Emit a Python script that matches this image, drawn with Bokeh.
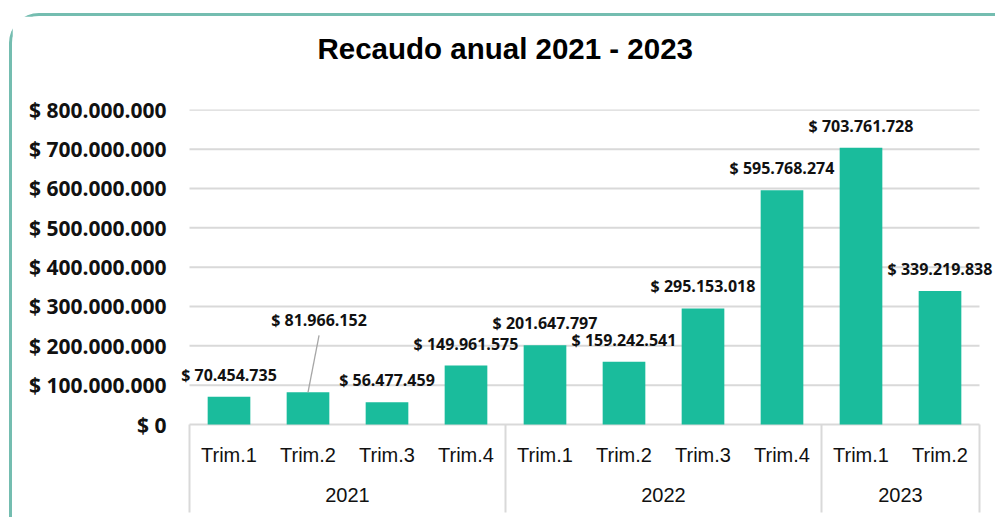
from bokeh.plotting import figure
from bokeh.models import (FactorRange, Range1d, FixedTicker, ColumnDataSource,
                          Title, LabelSet)
from bokeh.embed import file_html
from bokeh.resources import INLINE
from bokeh.core.properties import value

# ---------------- data ----------------
years = ["2021", "2021", "2021", "2021", "2022", "2022", "2022", "2022", "2023", "2023"]
quarters = ["Trim.1", "Trim.2", "Trim.3", "Trim.4", "Trim.1", "Trim.2", "Trim.3", "Trim.4", "Trim.1", "Trim.2"]
recaudo = [70454735, 81966152, 56477459, 149961575, 201647797,
           159242541, 295153018, 595768274, 703761728, 339219838]
y_ticks = [0, 100000000, 200000000, 300000000, 400000000,
           500000000, 600000000, 700000000, 800000000]
title_text = "Recaudo anual 2021 - 2023"


def fmt(v):
    return "$ " + f"{v:,}".replace(",", ".")


factors = list(zip(years, quarters))
labels = [fmt(v) for v in recaudo]

BAR = "#1ABC9C"
GRID = "#d9d9d9"
AXFONT = "Liberation Sans"

# label placement (styles): the 2nd label is lifted and linked with a leader line
moved_idx = 1
label_dx = [11 if i == moved_idx else 0 for i in range(len(recaudo))]
label_dy = [72 if i == moved_idx else 22 for i in range(len(recaudo))]

# frame is a bit wider than the category band so that outer labels are not clipped
x_range = FactorRange(*factors, factor_padding=0, group_padding=0,
                      range_padding=0.2405, range_padding_units="absolute")
px_per_unit = 314.7 / 800e6
y_range = Range1d(-96 / px_per_unit, 315 / px_per_unit)

p = figure(x_range=x_range, y_range=y_range, width=986, height=504,
           output_backend="svg", toolbar_location=None,
           min_border_left=158, min_border_right=0, min_border_top=93,
           min_border_bottom=0, outline_line_color=None,
           background_fill_color="white", border_fill_color="white")
p.styles = {"margin-left": "9px", "margin-top": "13px",
            "border-left": "3px solid #74bdb0", "border-top": "3px solid #74bdb0",
            "border-top-left-radius": "30px"}

# spacer (closest to the frame) and title above it
p.add_layout(Title(text=" ", text_font="Liberation Sans", text_font_size="10px",
                   standoff=27), "above")
p.add_layout(Title(text=title_text, align="left", offset=147, vertical_align="bottom",
                   text_font="Liberation Sans", text_font_size="29.5px",
                   text_font_style="bold", text_color="black", standoff=10), "above")

first_f = factors[0]
last_f = factors[-1]
band_left = [first_f[0], first_f[1], -0.5]
band_right = [last_f[0], last_f[1], 0.5]

# horizontal gridlines across the category band
p.segment(x0=[band_left] * len(y_ticks), x1=[band_right] * len(y_ticks),
          y0=y_ticks, y1=y_ticks, line_color=GRID, line_width=2)

src = ColumnDataSource(dict(x=factors, top=recaudo, label=labels,
                            dx=label_dx, dy=label_dy))
p.vbar(x="x", top="top", width=0.54, source=src, fill_color=BAR, line_color=None)

# group separators below the baseline
group_names = []
for y in years:
    if y not in group_names:
        group_names.append(y)
sep_x = []
for g in group_names:
    first = [f for f in factors if f[0] == g][0]
    sep_x.append([first[0], first[1], -0.5])
sep_x.append(band_right)
p.segment(x0=sep_x, x1=sep_x, y0=[0] * len(sep_x), y1=[-88 / px_per_unit] * len(sep_x),
          line_color=GRID, line_width=2)

# leader line for the moved label
p.segment(x0=[factors[moved_idx]], y0=[recaudo[moved_idx]],
          x1=[[factors[moved_idx][0], factors[moved_idx][1], 0.14]],
          y1=[recaudo[moved_idx] + 57 / px_per_unit], line_color="#a6a6a6", line_width=1.3)

# data labels
p.add_layout(LabelSet(x="x", y="top", text="label", source=src,
                      x_offset="dx", y_offset="dy",
                      text_align="center", text_baseline="middle",
                      text_font=value("Open Sans"), text_font_style="bold",
                      text_font_size="16px", text_color="#111111"))

# y axis
p.yaxis.ticker = FixedTicker(ticks=y_ticks)
p.yaxis.major_label_overrides = {t_: fmt(t_) for t_ in y_ticks}
p.yaxis.axis_line_color = None
p.yaxis.major_tick_line_color = None
p.yaxis.minor_tick_line_color = None
p.yaxis.major_tick_out = 0
p.yaxis.major_label_standoff = 4
p.yaxis.major_label_text_font = "Open Sans"
p.yaxis.major_label_text_font_style = "bold"
p.yaxis.major_label_text_font_size = "21px"
p.yaxis.major_label_text_color = "#111111"

p.ygrid.grid_line_color = None
p.xgrid.grid_line_color = None

# x axis (grouped categories)
xa = p.xaxis[0]
xa.fixed_location = 0
xa.axis_line_color = None
xa.major_tick_line_color = None
xa.minor_tick_line_color = None
xa.major_tick_out = 0
xa.separator_line_color = None
xa.major_label_standoff = 19
xa.major_label_text_font = AXFONT
xa.major_label_text_font_size = "20px"
xa.major_label_text_color = "#111111"
xa.group_text_font = AXFONT
xa.group_text_font_size = "20px"
xa.group_text_font_style = "normal"
xa.group_text_color = "#111111"

open("out.html", "w").write(file_html(p, INLINE))
